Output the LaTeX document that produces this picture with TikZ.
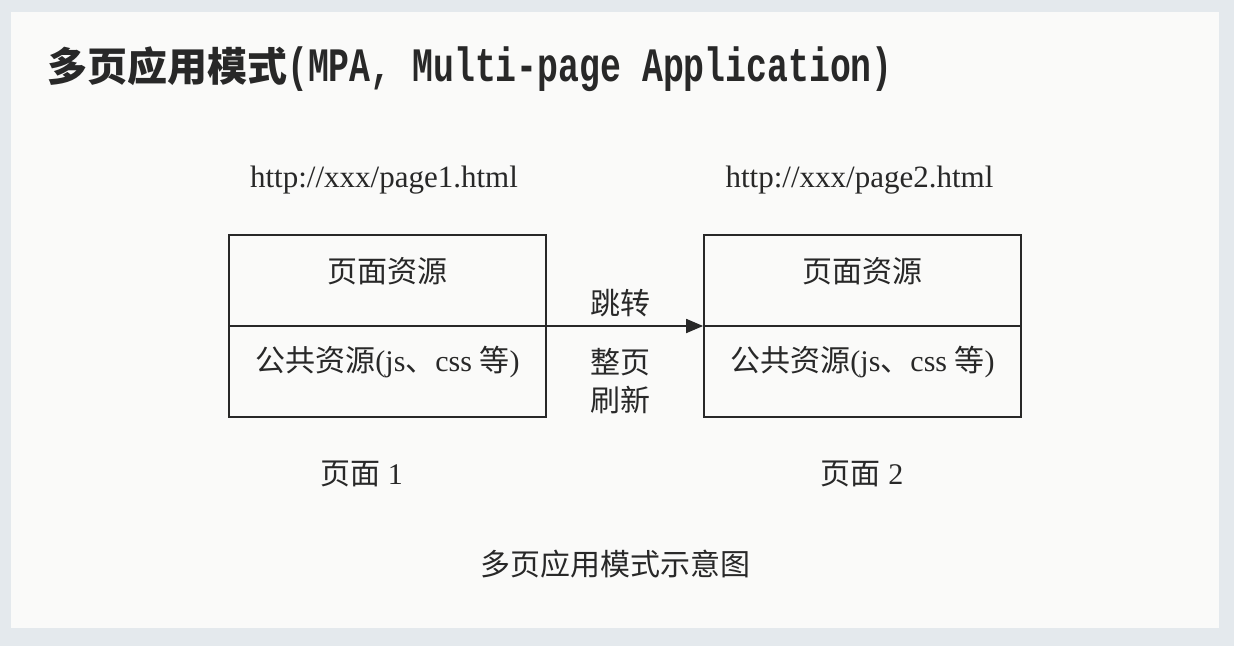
\documentclass[tikz,border=0pt]{standalone}
\usepackage{graphicx}
\usepackage{fontspec}
\setmainfont{Liberation Serif}
\newfontfamily\cjk{Noto Sans CJK SC}
\newfontfamily\titlemono{Liberation Mono}
\usetikzlibrary{arrows.meta,positioning}
\definecolor{frame}{RGB}{228,233,237}
\definecolor{paper}{RGB}{250,250,249}
\definecolor{ink}{RGB}{40,40,40}
\newcommand{\zh}[1]{{\cjk #1}}

\begin{document}
\begin{tikzpicture}[x=1pt,y=-1pt,
    pagebox/.style={draw=ink,line width=1.8pt,minimum width=317pt,minimum height=182pt,inner sep=0pt},
    body/.style={text=ink,inner sep=0pt,font=\fontsize{30}{38}\selectfont}]
  \fill[frame] (0,0) rectangle (1234,646);
  \fill[paper] (11,12) rectangle (1219,628);
  \node[anchor=base west,text=ink,inner sep=0pt] (title) at (47,81)
    {\fontsize{40}{48}\selectfont\cjk\bfseries 多页应用模式\scalebox{0.725}[1]{\fontsize{48}{48}\selectfont\titlemono\bfseries (MPA, Multi-page Application)}};
  \foreach \i/\x/\u/\l in {1/387.5/384/361.5,2/862.5/859.5/862}{
    \node[body,font=\fontsize{31}{36}\selectfont] (url\i) at (\u,180) {http://xxx/page\i.html};
    \node[pagebox] (page\i) at (\x,326) {};
    \draw[ink,line width=1.8pt] (page\i.west) -- (page\i.east);
    \node[body] (res\i) at (\x,271) {\zh{页面资源}};
    \node[body] (pub\i) at (\x,362) {\zh{公共资源}(js\zh{、}css \zh{等})};
    \node[body] (lab\i) at (\l,474) {\zh{页面} \i};
  }
  \draw[ink,line width=1.8pt,-{Triangle[length=17pt,width=14pt]}] (page1.east) -- (page2.west);
  \node[body] (jump) at (620,303) {\zh{跳转}};
  \node[body,align=center] (reload) at (620,381) {\zh{整页}\\\zh{刷新}};
  \node[body] (caption) at (615.5,564) {\zh{多页应用模式示意图}};
\end{tikzpicture}
\end{document}
